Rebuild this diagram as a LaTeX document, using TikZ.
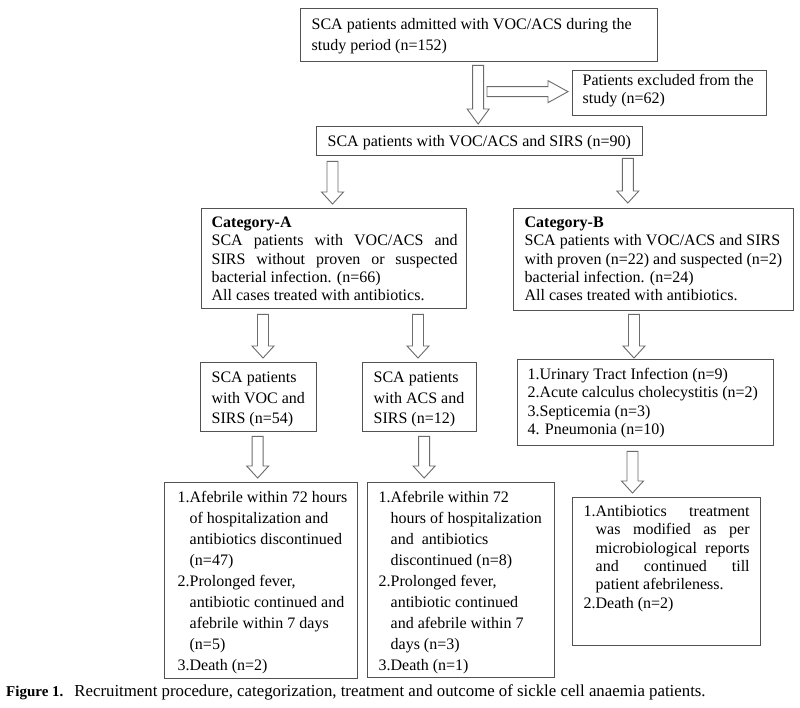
\documentclass[tikz,border=0pt]{standalone}
\usepackage{fontspec}
\setmainfont{Liberation Serif}
\usetikzlibrary{calc}
\definecolor{boxgray}{gray}{0.32}
\definecolor{arrgray}{gray}{0.42}
\newlength\hw
\newcommand\hitem[1]{\settowidth{\hw}{#1}\hangindent=\hw\hangafter=1 #1}
% #1 width, #2 height, #3 left pad, #4 first baseline from top, #5 line skip, #6 text width, #7 content
\newcommand{\mybox}[7]{%
  \begin{minipage}[c][#2][t]{#1}%
  \vspace*{\dimexpr#4-12pt\relax}%
  \hspace*{#3}\parbox[t]{#6}{\fontsize{16}{#5}\selectfont\rule{0pt}{12pt}#7}%
  \end{minipage}}
\newcommand\blkdown[3]{\draw[blk] let \p1=#1, \p2=#2 in
  (\x1-5.5pt,\y1) -- (\x1+5.5pt,\y1) -- (\x1+5.5pt,\y2+#3) -- (\x1+11pt,\y2+#3)
  -- (\x1,\y2) -- (\x1-11pt,\y2+#3) -- (\x1-5.5pt,\y2+#3) -- cycle;}
\newcommand\blkright[3]{\draw[blk] let \p1=#1, \p2=#2 in
  (\x1,\y2+5pt) -- (\x2-#3,\y2+5pt) -- (\x2-#3,\y2+11pt) -- (\x2,\y2)
  -- (\x2-#3,\y2-11pt) -- (\x2-#3,\y2-5pt) -- (\x1,\y2-5pt) -- cycle;}
\tikzset{
  box/.style={draw=boxgray, line width=1.3pt, anchor=north west, inner sep=0pt},
  blk/.style={draw=arrgray, fill=white, line width=0.9pt, line join=miter},
}
\begin{document}
\begin{tikzpicture}[x=1pt,y=-1pt]
\fill[white] (0,0) rectangle (800,707);
\useasboundingbox (0,0) rectangle (800,707);

\node[box] (top) at (300,8) {\mybox{357pt}{53pt}{11pt}{21pt}{20.5pt}{335pt}{SCA patients admitted with VOC/ACS during the\\study period (n=152)}};
\node[box] (excl) at (572,70) {\mybox{194pt}{45pt}{10pt}{15pt}{18pt}{180pt}{Patients excluded from the\\study (n=62)}};
\node[box] (sirs) at (316,126) {\mybox{326pt}{29pt}{11pt}{20pt}{18pt}{312pt}{SCA patients with VOC/ACS and SIRS (n=90)}};
\node[box] (catA) at (201,208) {\mybox{265pt}{100pt}{10pt}{19pt}{18.3pt}{246pt}{\textbf{Category-A}\\\makebox[\linewidth][s]{SCA patients with VOC/ACS and}\\\makebox[\linewidth][s]{SIRS without proven or suspected}\\bacterial infection. (n=66)\\All cases treated with antibiotics.}};
\node[box] (catB) at (513,208) {\mybox{280pt}{102pt}{11pt}{19pt}{18.3pt}{266pt}{\textbf{Category-B}\\SCA patients with VOC/ACS and SIRS\\with proven (n=22) and suspected (n=2)\\bacterial infection. (n=24)\\All cases treated with antibiotics.}};
\node[box] (voc) at (200,362) {\mybox{116pt}{69pt}{11pt}{20pt}{20.5pt}{104pt}{SCA patients\\with VOC and\\SIRS (n=54)}};
\node[box] (acs) at (362,362) {\mybox{114pt}{69pt}{11pt}{20pt}{20.5pt}{102pt}{SCA patients\\with ACS and\\SIRS (n=12)}};
\node[box] (inf) at (517,359) {\mybox{256pt}{86pt}{10pt}{20pt}{18.3pt}{244pt}{1.Urinary Tract Infection (n=9)\\2.Acute calculus cholecystitis (n=2)\\3.Septicemia (n=3)\\4. Pneumonia (n=10)}};
\node[box] (out1) at (164,482) {\mybox{193pt}{196pt}{13pt}{20pt}{21pt}{178pt}{%
\hitem{1.}Afebrile within 72 hours\\of hospitalization and\\antibiotics discontinued\\(n=47)\par
\hitem{2.}Prolonged fever,\\antibiotic continued and\\afebrile within 7 days\\(n=5)\par
3.Death (n=2)}};
\node[box] (out2) at (367,482) {\mybox{187pt}{195pt}{11pt}{20pt}{21pt}{174pt}{%
\hitem{1.}Afebrile within 72\\hours of hospitalization\\and\ \ antibiotics\\discontinued (n=8)\par
\hitem{2.}Prolonged fever,\\antibiotic continued\\and afebrile within 7\\days (n=3)\par
3.Death (n=1)}};
\node[box] (out3) at (572,497) {\mybox{188pt}{148pt}{11pt}{19pt}{18.3pt}{166pt}{%
\hitem{1.}\makebox[\dimexpr\linewidth-\hw\relax][s]{Antibiotics treatment}\\\makebox[\dimexpr\linewidth-\hw\relax][s]{was modified as per}\\\makebox[\dimexpr\linewidth-\hw\relax][s]{microbiological reports}\\\makebox[\dimexpr\linewidth-\hw\relax][s]{and continued till}\\patient afebrileness.\par
2.Death (n=2)}};

\node[anchor=base west, inner sep=0pt] (cap) at (6,696) {{\fontsize{15}{18}\selectfont\textbf{Figure 1.}}\hspace{11pt}{\fontsize{16.8}{18}\selectfont Recruitment procedure, categorization, treatment and outcome of sickle cell anaemia patients.}};

% block arrows
\blkdown{($(top.south)+(-1,3)$)}{($(sirs.north)+(0,-2)$)}{15pt}
\blkright{($(excl.west)+(-85,0)$)}{($(excl.west)+(-4,-1.5)$)}{20pt}
\blkdown{($(sirs.south west)+(16.5,5)$)}{($(catA.north)+(0,-4)$)}{12pt}
\blkdown{($(sirs.south east)+(-15.5,2)$)}{($(catB.north)+(0,-5)$)}{12pt}
\blkdown{($(catA.south west)+(62,5)$)}{($(voc.north)+(0,-4)$)}{12pt}
\blkdown{($(catA.south west)+(217,5)$)}{($(acs.north)+(0,-4)$)}{12pt}
\blkdown{($(catB.south west)+(121,3)$)}{($(inf.north)+(0,-1)$)}{12pt}
\blkdown{($(voc.south)+(-1,4)$)}{($(out1.north)+(0,-4)$)}{12pt}
\blkdown{($(acs.south)+(4.5,4)$)}{($(out2.north)+(0,-4)$)}{12pt}
\blkdown{($(inf.south west)+(115.5,5)$)}{($(out3.north)+(0,-4)$)}{12pt}
\end{tikzpicture}
\end{document}
